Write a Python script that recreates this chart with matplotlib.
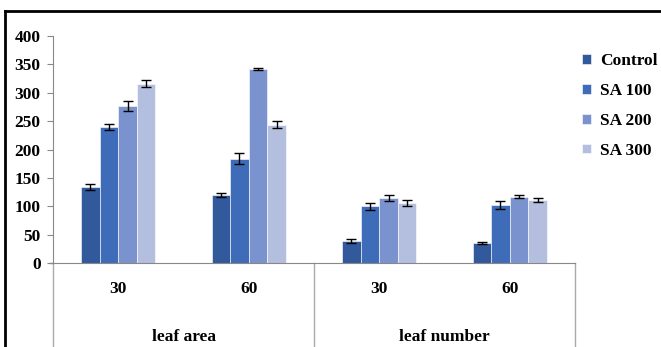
import matplotlib.pyplot as plt
import numpy as np
from matplotlib.transforms import blended_transform_factory

# measurement days within each trait, and the trait names
days = ["30", "60", "30", "60"]
traits = ["leaf area", "leaf number"]
treatments = ["Control", "SA 100", "SA 200", "SA 300"]

# mean values per treatment, one entry per (trait, day)
control = [134, 120, 39, 35]
sa100 = [240, 184, 100, 102]
sa200 = [277, 342, 114, 117]
sa300 = [316, 244, 106, 111]

# standard errors
control_err = [6, 4, 3, 2]
sa100_err = [5, 9, 6, 7]
sa200_err = [9, 2, 5, 2]
sa300_err = [6, 6, 5, 4]

colors = ["#31599b", "#3f6cb8", "#7a93cf", "#b4bfe0"]


def main():
    plt.rcParams["font.family"] = ["Liberation Serif", "DejaVu Serif"]
    plt.rcParams["font.weight"] = "bold"

    W, H = 661, 347
    fig = plt.figure(figsize=(W / 100, H / 100), dpi=100)
    ax = fig.add_axes([53 / W, 84 / H, 522 / W, 227 / H])

    values = [control, sa100, sa200, sa300]
    errors = [control_err, sa100_err, sa200_err, sa300_err]
    x = np.arange(len(days))
    width = 0.142
    for i, (vals, errs) in enumerate(zip(values, errors)):
        pos = x + (i - 1.5) * width
        ax.bar(pos, vals, width, color=colors[i], edgecolor="white",
               linewidth=0.4, label=treatments[i], zorder=2)
        ax.errorbar(pos, vals, yerr=errs, fmt="none", ecolor="black",
                    elinewidth=1.0, capsize=3.5, capthick=1.0, zorder=3)

    ax.set_xlim(-0.5, 3.5)
    ax.set_ylim(0, 400)
    ax.set_yticks(np.arange(0, 401, 50))
    ax.tick_params(axis="y", length=4, color="#888888", labelsize=12.5,
                   pad=5)
    ax.tick_params(axis="x", length=0, labelbottom=False)
    for lab in ax.get_yticklabels():
        lab.set_fontweight("bold")
    for side in ["top", "right"]:
        ax.spines[side].set_visible(False)
    ax.spines["left"].set_color("#888888")
    ax.spines["bottom"].set_color("#888888")

    # two-level category axis below the plot
    trans = blended_transform_factory(ax.transData, ax.transAxes)
    for sep in [-0.5, 1.5, 3.5]:
        ax.plot([sep, sep], [0, -0.4], color="#aaaaaa", lw=1,
                transform=trans, clip_on=False)
    ax.plot([-0.5 - 0.02, -0.5], [0, 0], color="#888888", lw=1,
            transform=trans, clip_on=False)
    for xi, d in zip(x, days):
        ax.text(xi, -0.115, d, transform=trans, ha="center", va="center",
                fontsize=12.5, fontweight="bold")
    for j, t in enumerate(traits):
        ax.text(2 * j + 0.5, -0.325, t, transform=trans, ha="center",
                va="center", fontsize=12.5, fontweight="bold")

    ax.legend(loc="upper left", bbox_to_anchor=(582 / W, 1 - 53 / H),
              bbox_transform=fig.transFigure, frameon=False,
              prop={"size": 12.5, "weight": "bold"}, handlelength=0.5,
              handleheight=0.5, handletextpad=0.55, labelspacing=0.8,
              borderpad=0, borderaxespad=0)

    # outer frame lines (top and left)
    fig.add_artist(plt.Line2D([5 / W, 1], [1 - 11 / H, 1 - 11 / H],
                              color="black", lw=2, transform=fig.transFigure))
    fig.add_artist(plt.Line2D([5 / W, 5 / W], [0, 1 - 11 / H],
                              color="black", lw=2, transform=fig.transFigure))

    fig.savefig("out.png", dpi=100)


if __name__ == '__main__':
    main()
